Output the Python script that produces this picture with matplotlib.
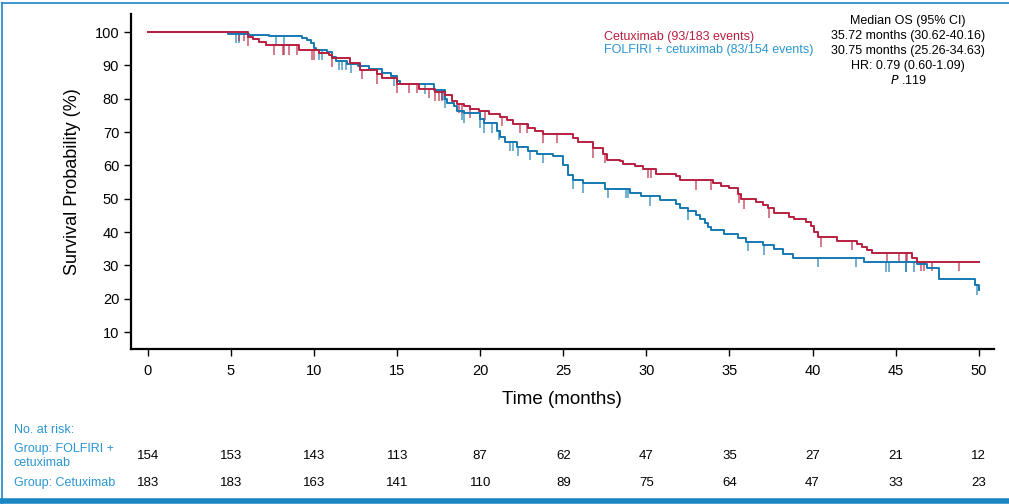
import matplotlib
matplotlib.use("Agg")
import matplotlib.pyplot as plt
import matplotlib.transforms as mtrans
import numpy as np

# Kaplan-Meier steps: (time in months, survival % after the step)
cetux_t = [0, 6.0, 6.3, 6.7, 7.1, 9.1, 10.3, 10.9, 11.1, 12.15, 12.75, 13.8, 14.1, 15.0, 16.3,
           17.3, 17.9, 18.3, 18.6, 19.0, 19.4, 19.9, 20.5, 21.2, 21.6, 22.0, 22.9, 23.3, 23.8,
           25.6, 25.9, 26.8, 27.4, 27.6, 28.4, 28.6, 29.3, 29.8, 30.6, 31.8, 32.0, 34.0, 34.5,
           35.0, 35.5, 35.7, 36.6, 37.0, 37.3, 37.7, 38.6, 38.9, 39.6, 39.9, 40.1, 40.3, 41.5,
           42.7, 43.0, 43.3, 43.6, 46.0, 46.3, 50.0]
cetux_s = [100, 98.6, 97.8, 97.1, 96.0, 94.5, 93.8, 93.1, 92.2, 90.8, 88.6, 87.3, 86.1, 84.4, 83.0,
           82.0, 81.0, 79.2, 78.5, 77.7, 77.0, 76.3, 75.3, 74.6, 73.5, 72.4, 71.3, 70.4, 69.4,
           68.1, 67.1, 65.1, 63.5, 61.6, 61.2, 60.4, 59.8, 59.0, 57.3, 56.7, 55.5, 54.7, 53.9,
           53.1, 51.5, 49.8, 49.0, 48.1, 47.1, 45.6, 44.6, 43.8, 43.1, 41.8, 40.1, 38.4, 37.4,
           36.4, 35.6, 34.6, 33.6, 32.1, 31.1, 31.1]
cetux_cens = [5.5, 5.8, 6.0, 7.6, 8.1, 8.2, 8.5, 9.0, 9.9, 10.0, 11.1, 12.9, 13.8, 15.0, 15.7,
              16.2, 16.9, 17.3, 17.5, 17.7, 18.7, 18.9, 19.4, 20.0, 20.3, 21.3, 22.4, 22.8, 23.8,
              24.6, 26.8, 27.5, 30.1, 30.3, 33.0, 33.9, 35.6, 35.9, 37.4, 40.5, 42.4, 44.5, 45.2,
              45.6, 45.7, 46.5, 46.7, 47.2, 48.8]

folf_t = [0, 4.8, 6.1, 7.3, 9.3, 9.6, 9.8, 10.0, 10.1, 10.8, 11.1, 11.3, 12.0, 12.65, 13.3, 14.1,
          14.6, 15.0, 15.2, 17.2, 17.9, 18.0, 18.4, 18.6, 19.0, 20.0, 20.2, 21.0, 21.2, 21.5, 22.2,
          22.9, 23.4, 24.4, 25.0, 25.3, 25.6, 26.2, 27.5, 29.0, 29.7, 30.8, 31.8, 32.0, 32.5, 33.0,
          33.2, 33.5, 33.7, 33.9, 34.7, 35.5, 36.0, 37.0, 37.7, 38.2, 38.8, 43.1, 46.3, 46.9,
          47.6, 49.8, 50.0]
folf_s = [100, 99.5, 99.2, 98.7, 98.2, 97.5, 96.7, 95.2, 94.5, 94.0, 92.5, 91.4, 90.5, 89.7, 89.0,
          87.7, 86.7, 85.2, 84.3, 82.5, 80.0, 78.8, 77.8, 76.4, 75.6, 74.0, 72.6, 70.4, 68.4, 67.1,
          65.6, 64.4, 63.4, 62.8, 60.0, 57.1, 55.6, 54.6, 53.0, 51.8, 50.7, 49.5, 48.5, 47.3, 46.3,
          45.0, 43.8, 42.8, 41.6, 40.7, 39.5, 38.2, 37.1, 36.0, 34.8, 33.5, 32.3, 30.9, 30.3, 29.3,
          25.8, 24.0, 22.6]
folf_cens = [5.3, 5.5, 7.7, 8.2, 10.3, 10.5, 11.5, 11.7, 11.9, 12.2, 14.8, 16.7, 17.7, 17.8, 17.9,
             18.9, 19.0, 20.0, 20.2, 20.7, 21.1, 21.8, 22.0, 22.3, 23.0, 23.8, 25.6, 26.2, 27.7,
             28.8, 28.9, 30.2, 32.5, 36.1, 37.1, 40.3, 42.6, 44.4, 44.6, 45.6, 45.65, 46.1, 49.9]

risk_times = [0, 5, 10, 15, 20, 25, 30, 35, 40, 45, 50]
risk_folf = [154, 153, 143, 113, 87, 62, 47, 35, 27, 21, 12]
risk_cetux = [183, 183, 163, 141, 110, 89, 75, 64, 47, 33, 23]

RED = "#b81f3f"
BLUE = "#1479b0"
TXT_BLUE = "#2a96d1"
FRAME = "#1a86c2"

plt.rcParams["font.family"] = ["Liberation Sans", "DejaVu Sans"]

fig = plt.figure(figsize=(10.09, 5.04), dpi=100)
ax = fig.add_axes([0.1298, 0.3075, 0.855, 0.6645])


def km(ax, t, s, cens, color):
    ax.step(t, s, where="post", color=color, lw=1.4, zorder=3)
    t = np.asarray(t)
    s = np.asarray(s)
    idx = np.searchsorted(t, cens, side="right") - 1
    y = s[idx]
    ax.vlines(cens, y - 2.8, y, color=color, lw=1.1, alpha=0.75, zorder=2)


km(ax, folf_t, folf_s, folf_cens, BLUE)
km(ax, cetux_t, cetux_s, cetux_cens, RED)

ax.set_xlim(-1.02, 50.9)
ax.set_ylim(4.9, 105.4)
ax.set_xticks(risk_times)
ax.set_yticks(range(10, 101, 10))
for sp in ["top", "right"]:
    ax.spines[sp].set_visible(False)
for sp in ["left", "bottom"]:
    ax.spines[sp].set_linewidth(1.6)
ax.tick_params(axis="both", length=5, width=1, labelsize=10.5)
ax.tick_params(axis="x", pad=6)
ax.set_ylabel("Survival Probability (%)", fontsize=13, labelpad=10)
ax.set_xlabel("Time (months)", fontsize=13.5, labelpad=9)

# legend block
fig.text(604 / 1009, 1 - 37 / 504, "Cetuximab (93/183 events)", color=RED,
         fontsize=9, va="center", ha="left")
fig.text(604 / 1009, 1 - 50 / 504, "FOLFIRI + cetuximab (83/154 events)", color=TXT_BLUE,
         fontsize=9, va="center", ha="left")
stats = ["Median OS (95% CI)", "35.72 months (30.62-40.16)", "30.75 months (25.26-34.63)",
         "HR: 0.79 (0.60-1.09)"]
for i, line in enumerate(stats):
    fig.text(908 / 1009, 1 - (21 + 15 * i) / 504, line, fontsize=9,
             ha="center", va="center")
fig.text(908 / 1009, 1 - 81 / 504, "$\\mathit{P}$ .119", fontsize=9,
         ha="center", va="center")

# number at risk table
labels = [("No. at risk:", 430), ("Group: FOLFIRI +", 449), ("cetuximab", 463),
          ("Group: Cetuximab", 483)]
for txt, py in labels:
    fig.text(14 / 1009, 1 - py / 504, txt, color=TXT_BLUE, fontsize=9, va="center")
blend = mtrans.blended_transform_factory(ax.transData, fig.transFigure)
for x, a, b in zip(risk_times, risk_folf, risk_cetux):
    ax.text(x, 1 - 456 / 504, str(a), transform=blend, fontsize=9.5, ha="center", va="center")
    ax.text(x, 1 - 483 / 504, str(b), transform=blend, fontsize=9.5, ha="center", va="center")

# frame lines of the page
fig.add_artist(plt.Line2D([0.002, 1], [1 - 3 / 504, 1 - 3 / 504], color=FRAME, lw=1.2))
fig.add_artist(plt.Line2D([2 / 1009, 2 / 1009], [0, 1 - 3 / 504], color=FRAME, lw=1.2))
fig.add_artist(plt.Line2D([0, 1], [3 / 504, 3 / 504], color=FRAME, lw=4))

fig.savefig("out.png", dpi=100)
